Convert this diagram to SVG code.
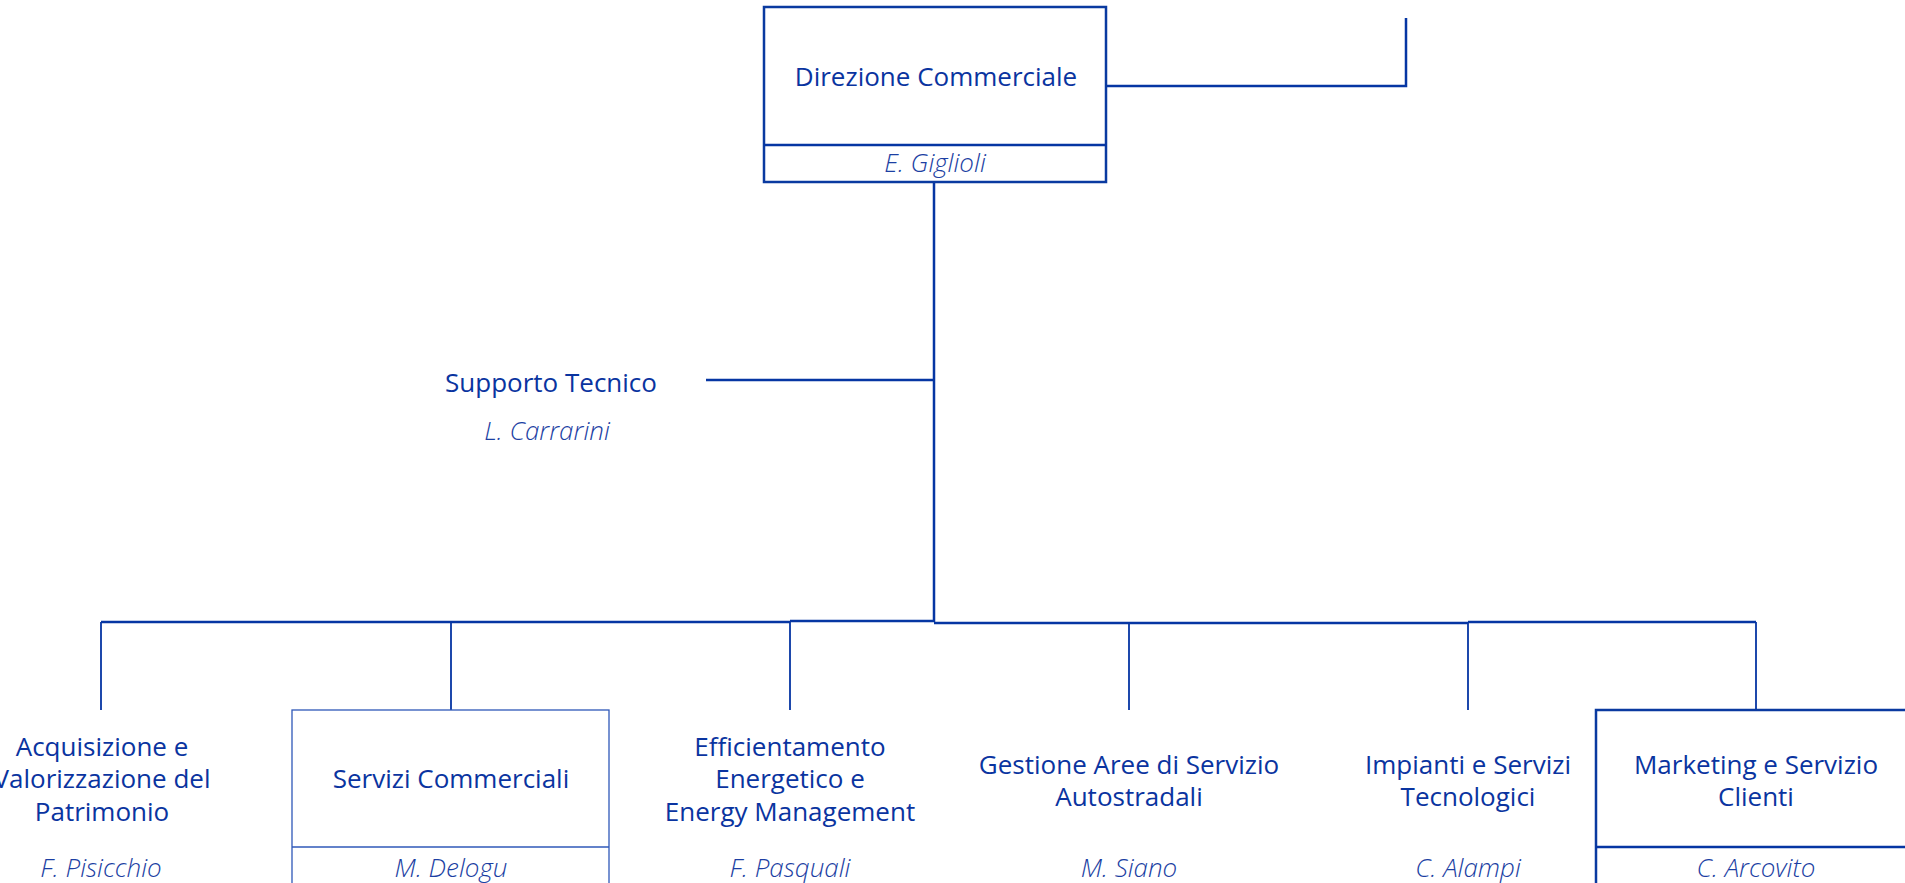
<svg xmlns="http://www.w3.org/2000/svg" width="1905" height="883" viewBox="0 0 1905 883">
<style>
.t{font-family:"Open Sans","Liberation Sans",sans-serif;font-size:26px;fill:#0a34a0;text-anchor:middle}
.n{font-family:"Open Sans","Liberation Sans",sans-serif;font-size:26px;font-style:italic;font-weight:300;fill:#1c3fa3;text-anchor:middle}
.ln{stroke:#0636a3;fill:none;stroke-width:2.5}
.thin{stroke:#0636a3;fill:none;stroke-width:1.8}
.box{fill:#fff;stroke:#0a3aa0;stroke-width:2.5}
.box2{fill:#fff;stroke:#2f58b8;stroke-width:1.3}
</style>
<rect width="1905" height="883" fill="#fff"/>
<g id="connectors">
<path class="ln" d="M1106 86 H1406 V18"/>
<path class="ln" d="M934 182 V622"/>
<path class="ln" d="M706 380 H934"/>
<path class="ln" d="M101 622 H790"/>
<path class="ln" d="M790 621 H934"/>
<path class="ln" d="M934 623 H1468"/>
<path class="ln" d="M1468 622 H1756"/>
<path class="thin" d="M101 622 V710 M451 622 V710 M790 621 V710 M1129 623 V710 M1468 622 V710 M1756 622 V710"/>
</g>
<g id="direzione">
<rect class="box" x="764" y="7" width="342" height="175"/>
<line class="ln" x1="764" y1="145" x2="1106" y2="145"/>
<text class="t" x="936" y="86">Direzione Commerciale</text>
<text class="n" x="935" y="172">E. Giglioli</text>
</g>
<g id="supporto">
<text class="t" x="551" y="392">Supporto Tecnico</text>
<text class="n" x="547" y="440">L. Carrarini</text>
</g>
<g id="acquisizione">
<text class="t" x="102" y="756">Acquisizione e</text>
<text class="t" x="102" y="788">Valorizzazione del</text>
<text class="t" x="102" y="821">Patrimonio</text>
<text class="n" x="101" y="877">F. Pisicchio</text>
</g>
<g id="servizi">
<rect class="box2" x="292" y="710" width="317" height="180"/>
<line class="box2" x1="292" y1="847" x2="609" y2="847"/>
<text class="t" x="451" y="788">Servizi Commerciali</text>
<text class="n" x="451" y="877">M. Delogu</text>
</g>
<g id="efficientamento">
<text class="t" x="790" y="756">Efficientamento</text>
<text class="t" x="790" y="788">Energetico e</text>
<text class="t" x="790" y="821">Energy Management</text>
<text class="n" x="790" y="877">F. Pasquali</text>
</g>
<g id="gestione">
<text class="t" x="1129" y="774">Gestione Aree di Servizio</text>
<text class="t" x="1129" y="806">Autostradali</text>
<text class="n" x="1129" y="877">M. Siano</text>
</g>
<g id="impianti">
<text class="t" x="1468" y="774">Impianti e Servizi</text>
<text class="t" x="1468" y="806">Tecnologici</text>
<text class="n" x="1468" y="877">C. Alampi</text>
</g>
<g id="marketing">
<rect class="box" x="1596" y="710" width="330" height="190"/>
<line class="ln" x1="1596" y1="847" x2="1905" y2="847"/>
<text class="t" x="1756" y="774">Marketing e Servizio</text>
<text class="t" x="1756" y="806">Clienti</text>
<text class="n" x="1756" y="877">C. Arcovito</text>
</g>
</svg>
